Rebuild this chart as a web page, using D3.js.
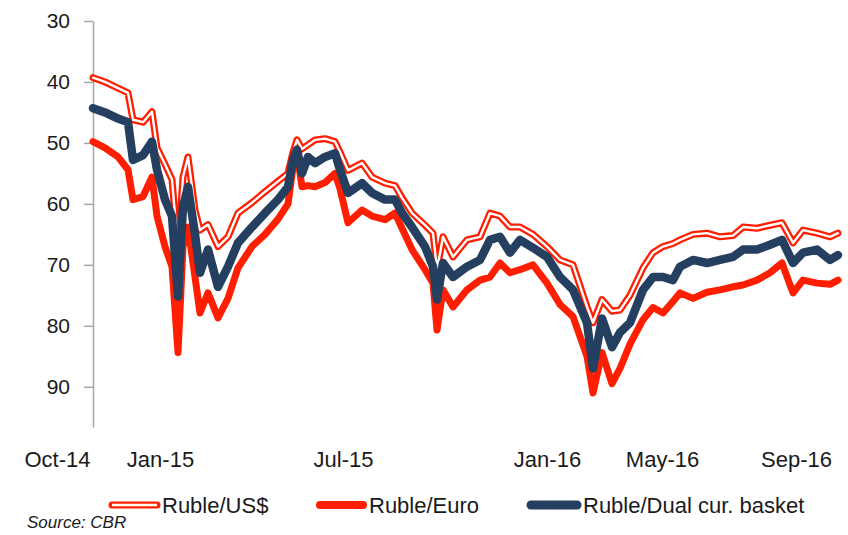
<!DOCTYPE html>
<html>
<head>
<meta charset="utf-8">
<script src="https://cdn.jsdelivr.net/npm/d3@7"></script>
<style>
  body { margin: 0; background: #fff; }
  svg text { font-family: "Liberation Sans", Arial, sans-serif; fill: #1a1a1a; }
</style>
</head>
<body>
<div id="chart"></div>
<script>
var dates = ["2014-10-01","2014-10-13","2014-10-26","2014-11-05","2014-11-10","2014-11-20","2014-11-29",
  "2014-12-04","2014-12-12","2014-12-19","2014-12-25","2014-12-30","2015-01-04","2015-01-11","2015-01-16",
  "2015-01-24","2015-02-03","2015-02-13","2015-02-23","2015-03-09","2015-03-22","2015-04-04","2015-04-14",
  "2015-04-19","2015-04-23","2015-04-28","2015-05-04","2015-05-11","2015-05-21","2015-05-31","2015-06-05",
  "2015-06-13","2015-06-27","2015-07-07","2015-07-20","2015-07-30","2015-08-06","2015-08-16","2015-08-29",
  "2015-09-06","2015-09-10","2015-09-16","2015-09-26","2015-10-10","2015-10-23","2015-11-02","2015-11-12",
  "2015-11-22","2015-12-02","2015-12-15","2015-12-29","2016-01-11","2016-01-24","2016-02-07","2016-02-13",
  "2016-02-22","2016-03-03","2016-03-11","2016-03-21","2016-04-03","2016-04-13","2016-04-23","2016-05-03",
  "2016-05-10","2016-05-23","2016-06-06","2016-06-19","2016-07-02","2016-07-12","2016-07-26","2016-08-08",
  "2016-08-20","2016-08-31","2016-09-10","2016-09-24","2016-10-07","2016-10-15"];

var usd = [39.3,40.0,41.0,41.8,46.2,46.6,44.9,50.8,53.5,56.0,67.5,55.6,52.3,61.0,64.3,
  63.4,67.0,65.4,61.5,59.8,58.0,56.3,55.0,51.5,49.5,51.0,50.3,49.5,49.3,49.8,51.5,
  54.5,53.3,55.6,56.6,57.0,59.0,61.5,63.5,64.8,70.8,65.4,68.7,65.9,65.4,61.5,62.0,
  63.8,63.8,65.0,67.0,69.2,70.0,76.9,79.5,75.7,77.6,77.4,75.0,70.5,68.0,67.0,66.5,
  65.9,65.0,64.8,65.4,65.2,63.8,64.0,63.5,63.1,66.4,64.3,64.8,65.4,64.8];

var euro = [49.8,50.8,52.3,54.4,59.3,58.8,55.6,62.0,67.0,70.3,84.4,67.0,63.8,72.0,77.9,
  74.6,78.7,75.5,70.5,67.0,65.0,62.5,60.0,54.0,51.7,57.2,57.0,57.2,56.5,55.0,57.5,
  63.1,61.0,62.0,62.6,61.5,64.0,67.5,70.8,73.0,80.7,74.1,76.9,74.1,72.5,72.0,69.7,
  71.3,70.8,70.0,73.0,76.5,78.5,85.0,91.0,84.4,89.5,87.0,83.0,79.0,77.0,77.9,76.0,
  74.6,75.5,74.5,74.1,73.6,73.3,72.5,71.3,69.7,74.6,72.5,73.0,73.2,72.5];

var basket = [44.3,45.0,46.0,46.6,52.8,52.0,49.8,54.4,59.3,62.0,75.2,60.5,57.2,65.0,71.3,
  67.5,73.6,70.3,66.4,63.8,61.5,59.3,57.2,52.8,51.1,55.0,52.3,53.3,52.3,51.7,54.4,
  58.2,56.6,58.2,59.3,59.3,61.5,63.8,67.0,70.3,75.7,69.7,72.0,70.3,69.2,65.9,65.4,
  68.0,65.9,67.2,68.7,72.0,74.1,79.5,87.0,78.8,83.5,81.1,79.5,74.1,72.0,72.0,72.5,
  70.3,69.2,69.7,69.2,68.7,67.5,67.5,66.7,65.9,69.7,68.0,67.5,69.2,68.4];

var yTicks = [30, 40, 50, 60, 70, 80, 90];
var xTickLabels = ["Oct-14", "Jan-15", "Jul-15", "Jan-16", "May-16", "Sep-16"];
var xTickDates = ["2014-08-26", "2014-12-07", "2015-06-08", "2015-12-29", "2016-04-22", "2016-09-03"];
var seriesNames = ["Ruble/US$", "Ruble/Euro", "Ruble/Dual cur. basket"];

var svgWidth = 848, svgHeight = 535;
var margin = { top: 21, right: 10, bottom: 108, left: 93 };
var width = 838 - margin.left;
var height = 427 - margin.top;
var red = "#ff1e00", navy = "#243f60";

var parse = d3.timeParse("%Y-%m-%d");

var svg = d3.select("#chart").append("svg")
    .attr("width", svgWidth)
    .attr("height", svgHeight);

var g = svg.append("g")
    .attr("transform", "translate(" + margin.left + "," + margin.top + ")");

var x = d3.scaleTime()
    .domain([parse("2014-10-01"), parse("2016-10-15")])
    .range([0, width]);

// inverted axis, as in the original
var y = d3.scaleLinear()
    .domain([30, 96.6])
    .range([0, height]);

// y axis
var yAxis = g.append("g")
    .call(d3.axisLeft(y).tickValues(yTicks).tickSize(9).tickPadding(14).tickSizeOuter(0));
yAxis.select(".domain").attr("stroke", "#a6a6a6").attr("stroke-width", 1.5);
yAxis.selectAll(".tick line").attr("stroke", "#a6a6a6").attr("stroke-width", 1.5);
yAxis.selectAll(".tick text").attr("font-size", "21px").attr("fill", "#1a1a1a");

// x axis labels (no line)
var xAxis = g.append("g")
    .attr("transform", "translate(0," + height + ")")
    .call(d3.axisBottom(x)
        .tickValues(xTickDates.map(parse))
        .tickFormat(function(d, i) { return xTickLabels[i]; })
        .tickSize(0).tickPadding(24));
xAxis.select(".domain").remove();
xAxis.selectAll(".tick text").attr("font-size", "22px").attr("fill", "#1a1a1a");

function lineFor(values) {
    return d3.line()
        .x(function(d, i) { return x(parse(dates[i])); })
        .y(function(d) { return y(d); })
        .curve(d3.curveLinear)(values);
}

// Ruble/US$: red double line
g.append("path").attr("d", lineFor(usd))
    .attr("fill", "none").attr("stroke", red).attr("stroke-width", 7)
    .attr("stroke-linejoin", "round").attr("stroke-linecap", "round");
g.append("path").attr("d", lineFor(usd))
    .attr("fill", "none").attr("stroke", "#fff").attr("stroke-width", 2.4)
    .attr("stroke-linejoin", "round").attr("stroke-linecap", "round");

// Ruble/Euro
g.append("path").attr("d", lineFor(euro))
    .attr("fill", "none").attr("stroke", red).attr("stroke-width", 7)
    .attr("stroke-linejoin", "round").attr("stroke-linecap", "round");

// Ruble/Dual currency basket
g.append("path").attr("d", lineFor(basket))
    .attr("fill", "none").attr("stroke", navy).attr("stroke-width", 8.5)
    .attr("stroke-linejoin", "round").attr("stroke-linecap", "round");

// legend
var legendX = [109, 316, 527];
var legendY = 505;
var legend = svg.append("g");
seriesNames.forEach(function(name, i) {
    var lx = legendX[i];
    var sw = i == 2 ? 54 : 51;
    if (i == 0) {
        legend.append("line").attr("x1", lx + 3).attr("x2", lx + sw - 3)
            .attr("y1", legendY).attr("y2", legendY)
            .attr("stroke", red).attr("stroke-width", 7).attr("stroke-linecap", "round");
        legend.append("line").attr("x1", lx + 3).attr("x2", lx + sw - 3)
            .attr("y1", legendY).attr("y2", legendY)
            .attr("stroke", "#fff").attr("stroke-width", 2.5);
    } else {
        legend.append("line").attr("x1", lx + 4).attr("x2", lx + sw - 4)
            .attr("y1", legendY).attr("y2", legendY)
            .attr("stroke", i == 1 ? red : navy).attr("stroke-width", i == 1 ? 8 : 9)
            .attr("stroke-linecap", "round");
    }
    legend.append("text")
        .attr("x", lx + sw + 2)
        .attr("y", legendY)
        .attr("dy", "0.35em")
        .attr("font-size", "22px")
        .text(name);
});

svg.append("text")
    .attr("x", 27)
    .attr("y", 528)
    .attr("font-size", "17px")
    .attr("font-style", "italic")
    .text("Source: CBR");
</script>
</body>
</html>
